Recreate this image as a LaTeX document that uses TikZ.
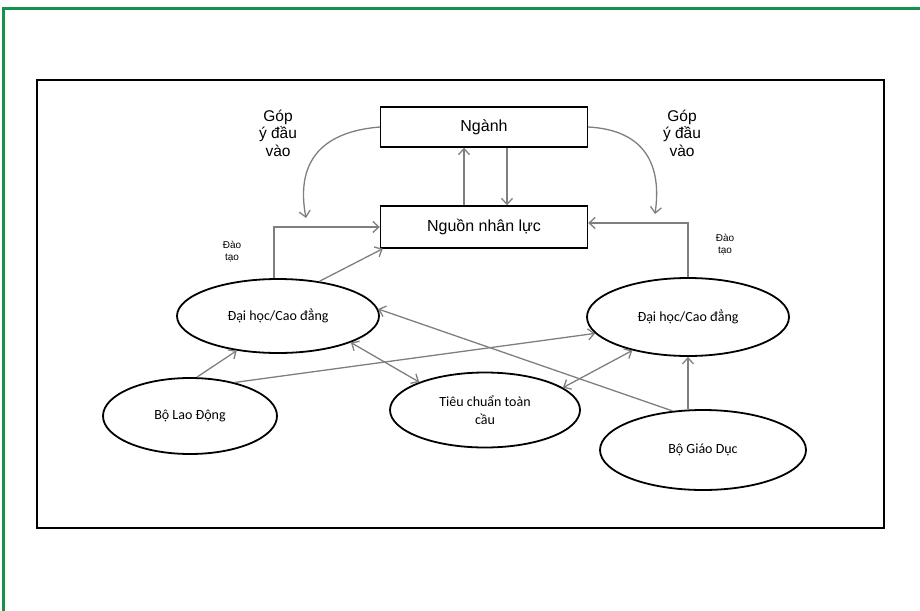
\documentclass[tikz,border=0pt]{standalone}
\usepackage{fontspec}
\setmainfont{Liberation Sans}
\newfontfamily\calib{Carlito}
\usetikzlibrary{arrows.meta,shapes.geometric}
\definecolor{frameg}{HTML}{16924A}
\definecolor{arrg}{HTML}{7F7F7F}
\tikzset{
  boxnode/.style={draw=black,line width=1.4pt,minimum width=207pt,minimum height=40pt,inner sep=0pt,font=\fontsize{16}{19}\selectfont},
  ellnode/.style={draw=black,ellipse,line width=1.8pt,inner sep=0pt,font=\calib\fontsize{14}{18}\selectfont,align=center},
  arr/.style={draw=arrg,line width=1.3pt,-{Straight Barb[length=6pt,width=11pt]}},
  darr/.style={draw=arrg,line width=1.3pt,{Straight Barb[length=6pt,width=11pt]}-{Straight Barb[length=6pt,width=11pt]}},
  biglabel/.style={align=center,font=\fontsize{15.5}{17.5}\selectfont,inner sep=0pt},
  smalllabel/.style={align=center,font=\fontsize{10}{12}\selectfont,inner sep=0pt}
}
\begin{document}
\begin{tikzpicture}[x=1pt,y=-1pt]
\useasboundingbox (0,0) rectangle (920,610);
\begin{scope}
\clip (0,0) rectangle (920,610);
\draw[frameg,line width=3pt] (3.5,615) |- (925,9);
\end{scope}
\draw[black,line width=1.8pt] (37,80) rectangle (884,528);

\node[boxnode] (nganh) at (484,127) {Ngành};
\node[boxnode,minimum height=42pt] (nguon) at (484,227) {Nguồn nhân lực};

\node[biglabel] (gopL) at (278,133) {Góp\\ý đầu\\vào};
\node[biglabel] (gopR) at (682,133) {Góp\\ý đầu\\vào};
\node[smalllabel] (daoL) at (232,252) {Đào\\tạo};
\node[smalllabel] (daoR) at (725,245) {Đào\\tạo};

\node[ellnode,minimum width=202pt,minimum height=74pt] (dhL) at (278,316) {Đại học/Cao đẳng};
\node[ellnode,minimum width=202pt,minimum height=78pt] (dhR) at (688,317) {Đại học/Cao đẳng};
\node[ellnode,minimum width=174pt,minimum height=76pt] (boLD) at (190,416) {Bộ Lao Động};
\node[ellnode,minimum width=190pt,minimum height=75pt] (tieu) at (485,410) {Tiêu chuẩn toàn\\cầu};
\node[ellnode,minimum width=206pt,minimum height=80pt] (boGD) at (703,450) {Bộ Giáo Dục};

% curved feedback arrows
\coordinate (cL) at (306,218);
\coordinate (cR) at (655,214);
\draw[arr] (nganh.west) .. controls (318,132) and (296,165) .. (cL);
\draw[arr] (nganh.east) .. controls (645,130) and (662,165) .. (cR);

% vertical arrows between boxes
\draw[arr] ([xshift=-20pt]nguon.north) -- ([xshift=-20pt]nganh.south);
\draw[arr] ([xshift=23pt]nganh.south) -- ([xshift=23pt]nguon.north);

% training arrows
\draw[arr] ([xshift=-4pt]dhL.north) |- (nguon.west);
\draw[arr] (dhL.40) -- ([xshift=3pt]nguon.south west);
\draw[arr] (dhR.north) |- ([yshift=4pt]nguon.east);

% ministry arrows
\draw[arr] ([xshift=7pt]boLD.north) -- (dhL.220);
\draw[arr] (boLD.37) -- (dhR.190);
\draw[arr] (boGD.128) -- (dhL.4);
\draw[arr] (boGD.north -| dhR.south) -- (dhR.south);

% global standard
\draw[darr] (dhL.340) -- (tieu.157);
\draw[darr] (tieu.16) -- (dhR.211);
\end{tikzpicture}
\end{document}
